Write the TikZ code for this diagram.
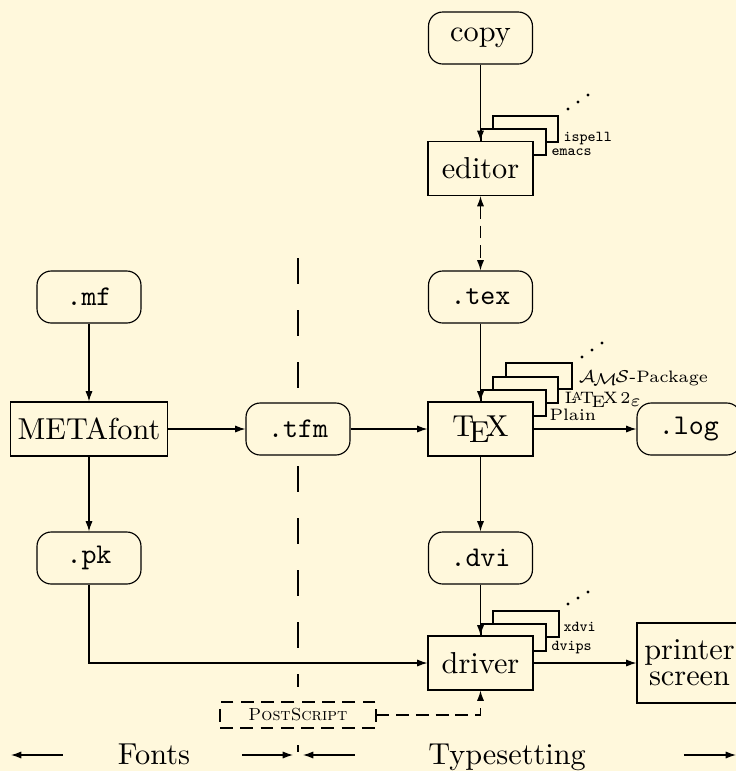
\documentclass[tikz,border=0pt]{standalone}
\usetikzlibrary{arrows.meta}
\definecolor{bg}{RGB}{255,248,220}
\newcommand\myAmS{$\mathcal{A}\kern-.1667em\lower.5ex\hbox{$\mathcal{M}$}\kern-.125em\mathcal{S}$}
\begin{document}
\begin{tikzpicture}[x=0.35pt,y=-0.35pt,
  line width=0.4pt,
  big/.style={font=\fontsize{10.6}{12}\selectfont},
  rnd/.style={draw, rounded corners=5pt, fill=bg, minimum width=36.4pt, minimum height=18.2pt, inner sep=0pt},
  box/.style={draw, fill=bg, minimum width=36.75pt, minimum height=18.9pt, inner sep=0pt, big},
  dbox/.style={draw, fill=bg, dash pattern=on 4.5pt off 2.6pt, minimum width=54.6pt, minimum height=9.1pt, inner sep=0pt},
  frm/.style={draw, fill=bg},
  arr/.style={-{Latex[length=3.6pt,width=2.5pt]}},
  both/.style={{Latex[length=3.6pt,width=2.5pt]}-{Latex[length=3.6pt,width=2.5pt]}},
  dsh/.style={dash pattern=on 4.5pt off 2.4pt},
  ttl/.style={inner sep=0pt, anchor=west, font=\fontsize{5.3}{6}\selectfont\ttfamily},
  rml/.style={inner sep=0pt, anchor=west, font=\fontsize{5.8}{6.5}\selectfont},
  dotm/.style={fill=black}
]
\fill[bg] (0,0) rectangle (736,771);
\useasboundingbox (0,0) rectangle (736,771);

% separator
\draw[dash pattern=on 9.1pt off 9.1pt] (298,258) -- (298,687);

% editor stack
\draw[frm] (493,116) rectangle (558,142);
\draw[frm] (481,129) rectangle (546,155);
\node[ttl] (ispell) at (563,139) {ispell};
\node[ttl] (emacs) at (551,152) {emacs};
\fill[dotm] (568,109) circle (0.55pt) (578,102) circle (0.55pt) (588,95) circle (0.55pt);

% TeX stack
\draw[frm] (506,363) rectangle (572,389);
\draw[frm] (493,377) rectangle (558,403);
\draw[frm] (481,390) rectangle (546,416);
\node[rml] (ams) at (578,378) {\myAmS-Package};
\node[rml] (latex) at (564,400) {\LaTeXe};
\node[rml] (plain) at (549,415) {Plain};
\fill[dotm] (582,357) circle (0.55pt) (592,350) circle (0.55pt) (602,343) circle (0.55pt);

% driver stack
\draw[frm] (493,611) rectangle (559,637);
\draw[frm] (481,624) rectangle (546,651);
\node[ttl] (xdvi) at (563,627) {xdvi};
\node[ttl] (dvips) at (551,648) {dvips};
\fill[dotm] (568,604) circle (0.55pt) (578,598) circle (0.55pt) (588,592) circle (0.55pt);

% nodes
\node[rnd, big] (copy) at (480.5,38) {copy};
\node[box] (editor) at (480.5,168.5) {editor};
\node[rnd] (tex) at (480.5,297) {\texttt{.tex}};
\node[rnd] (mf) at (89,297) {\texttt{.mf}};
\node[box, minimum width=55pt] (metafont) at (89,429) {METAfont};
\node[rnd] (tfm) at (298,429) {\texttt{.tfm}};
\node[box] (texbox) at (480.5,429) {\TeX};
\node[rnd] (log) at (689,429) {\texttt{.log}};
\node[rnd] (pk) at (89,558) {\texttt{.pk}};
\node[rnd] (dvi) at (480.5,558) {\texttt{.dvi}};
\node[box] (driver) at (480.5,663) {driver};
\node[box, minimum height=28pt, align=center] (printer) at (689.5,663) {printer\\[-3pt]screen};
\node[dbox] (ps) at (298,715) {\fontsize{6.1}{7}\selectfont\textsc{PostScript}};

% connectors
\draw[arr] (copy) -- (editor);
\draw[dsh, both] (editor) -- (tex);
\draw[arr] (tex) -- (texbox);
\draw[arr] (mf) -- (metafont);
\draw[arr] (metafont) -- (tfm);
\draw[arr] (tfm) -- (texbox);
\draw[arr] (texbox) -- (log);
\draw[arr] (metafont) -- (pk);
\draw[arr] (texbox) -- (dvi);
\draw[arr] (dvi) -- (driver);
\draw[arr] (pk) |- (driver);
\draw[arr] (driver) -- (printer);
\draw[dsh, arr] (ps) -| (driver);

% bottom legend
\node[anchor=base, big] (fonts) at (154,764) {Fonts};
\node[anchor=base, big] (typeset) at (507,764) {Typesetting};
\coordinate (l1) at (63,755); \coordinate (l0) at (11,755);
\coordinate (m0) at (242,755); \coordinate (m1) at (293,755);
\coordinate (t0) at (298,745); \coordinate (t1) at (298,752);
\coordinate (n0) at (355,755); \coordinate (n1) at (303,755);
\coordinate (r0) at (684,755); \coordinate (r1) at (736,755);
\draw[arr] (l1) -- (l0);
\draw[arr] (m0) -- (m1);
\draw (t0) -- (t1);
\draw[arr] (n0) -- (n1);
\draw[arr] (r0) -- (r1);
\end{tikzpicture}
\end{document}
